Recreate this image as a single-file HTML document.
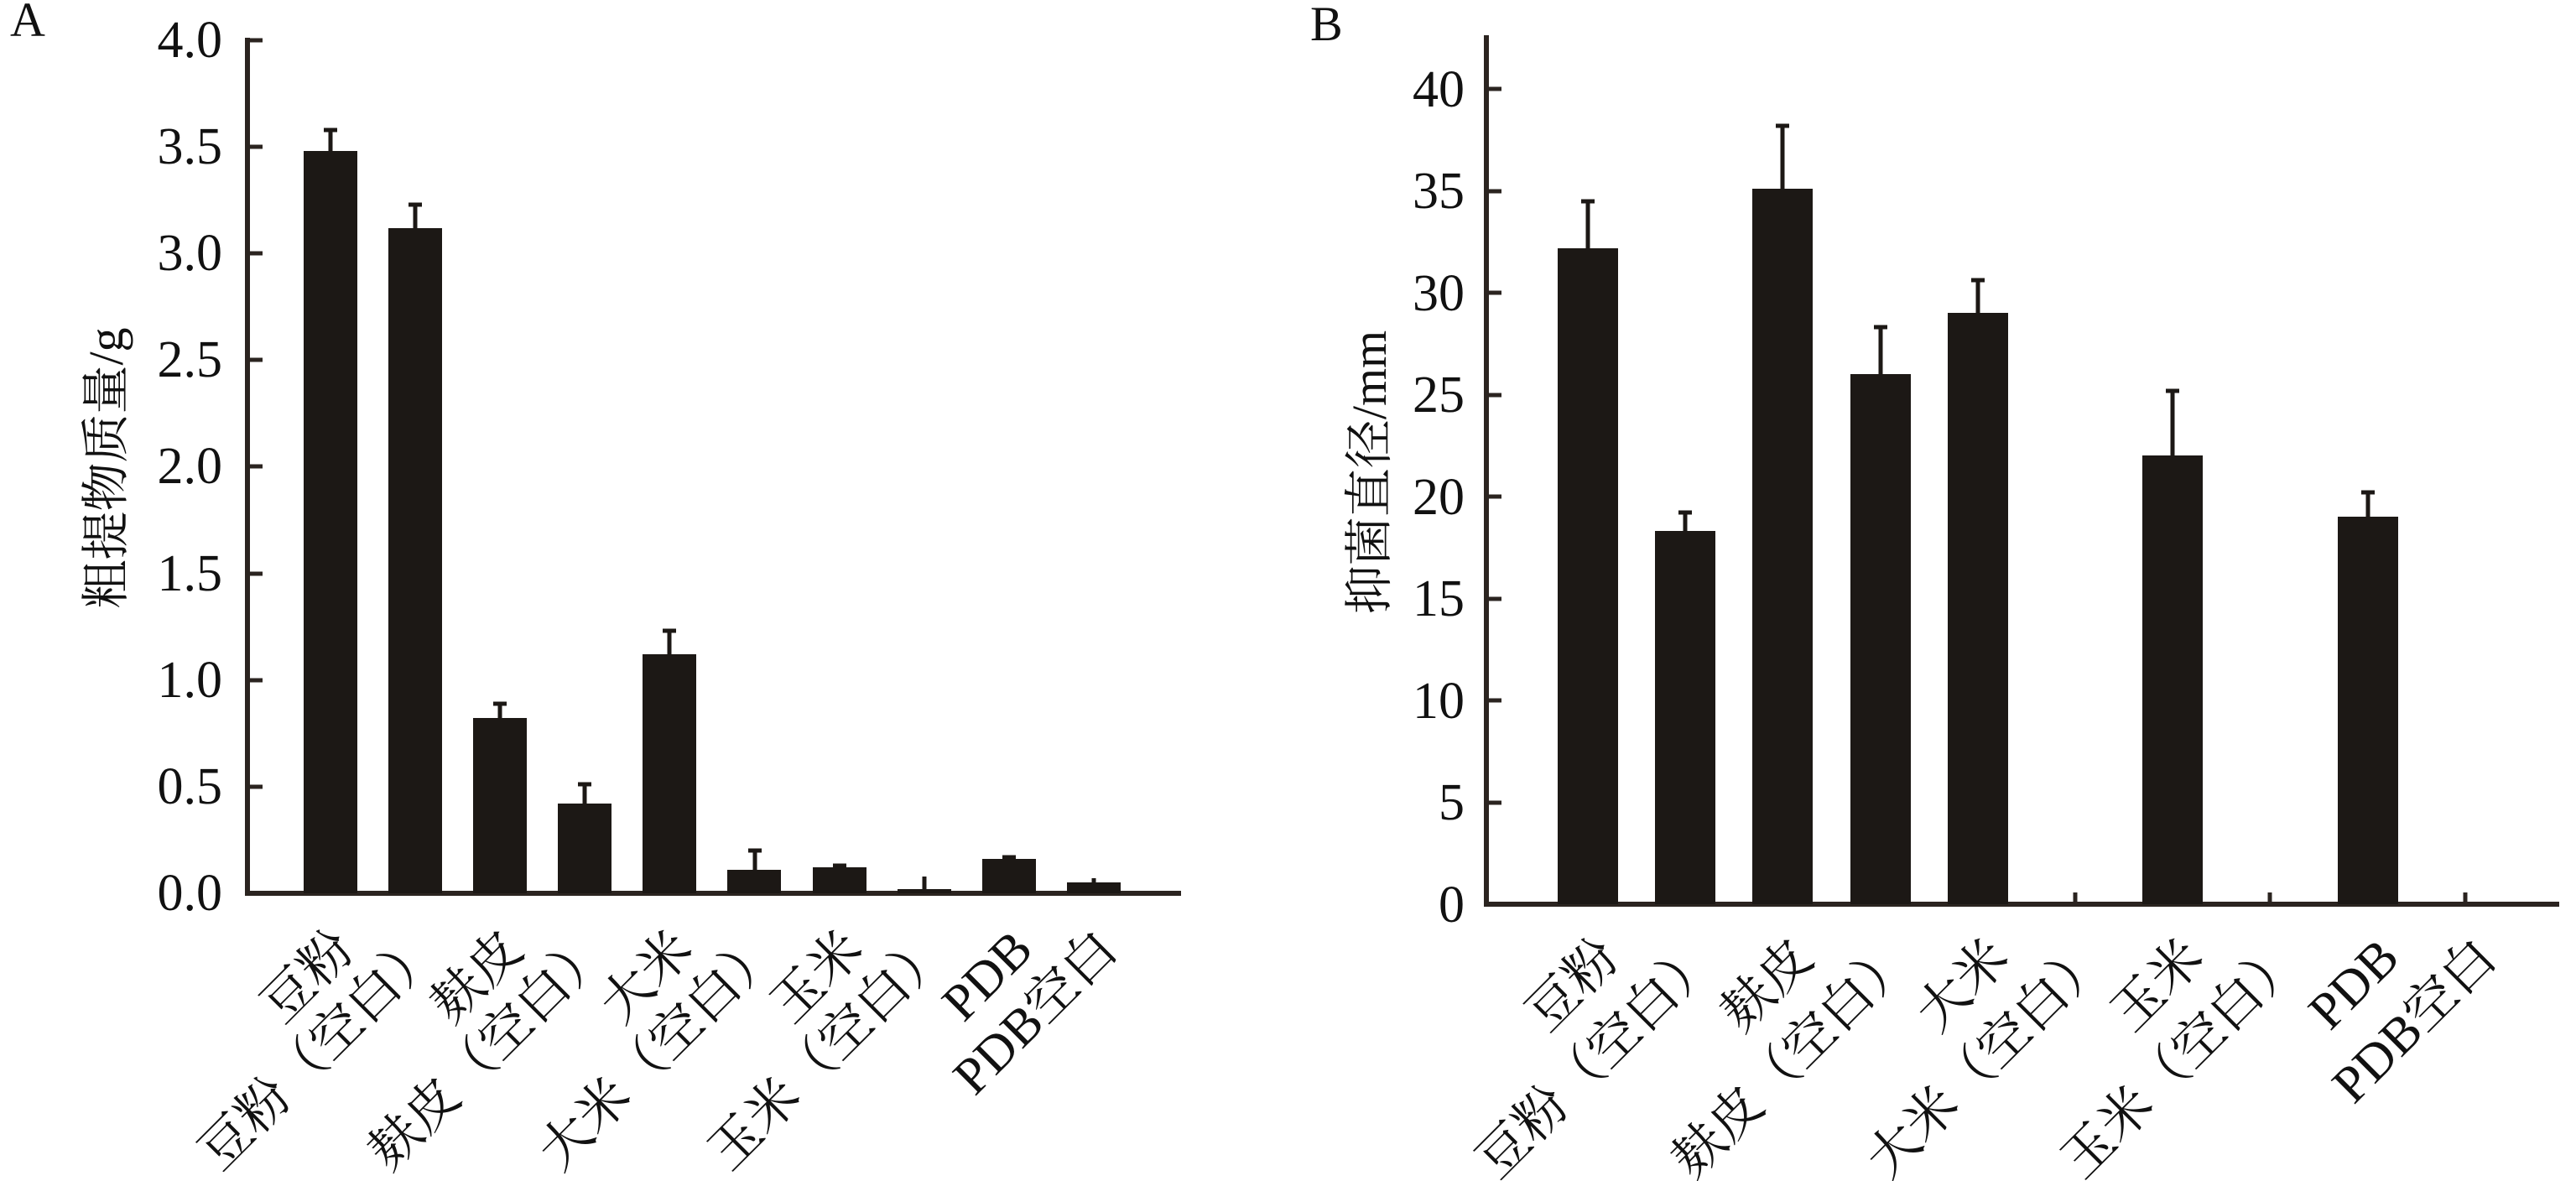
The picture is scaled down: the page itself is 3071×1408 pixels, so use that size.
<!DOCTYPE html>
<html><head><meta charset="utf-8"><style>
html,body{margin:0;padding:0;background:#fff;}
svg{display:block;}
text{font-family:"Liberation Serif","Noto Serif CJK SC",serif;fill:#111;}
</style></head><body>
<svg width="3071" height="1408" viewBox="0 0 3071 1408" xmlns="http://www.w3.org/2000/svg">
<!-- Panel A -->
<text x="12" y="43" font-size="58">A</text>
<g stroke="#2b2420" stroke-width="6" fill="none">
<line x1="295" y1="45" x2="295" y2="1068"/>
<line x1="292" y1="1065" x2="1408" y2="1065"/>
</g>
<g stroke="#2b2420" stroke-width="5">
<line x1="295" y1="48" x2="313" y2="48"/><line x1="295" y1="175" x2="313" y2="175"/>
<line x1="295" y1="302" x2="313" y2="302"/><line x1="295" y1="429" x2="313" y2="429"/>
<line x1="295" y1="556" x2="313" y2="556"/><line x1="295" y1="684" x2="313" y2="684"/>
<line x1="295" y1="811" x2="313" y2="811"/><line x1="295" y1="938" x2="313" y2="938"/>
</g>
<g font-size="62" text-anchor="end">
<text x="265" y="68">4.0</text><text x="265" y="195">3.5</text><text x="265" y="322">3.0</text>
<text x="265" y="449">2.5</text><text x="265" y="576">2.0</text><text x="265" y="704">1.5</text>
<text x="265" y="831">1.0</text><text x="265" y="958">0.5</text><text x="265" y="1085">0.0</text>
</g>
<text transform="translate(146,558) rotate(-90)" font-size="58" text-anchor="middle">粗提物质量/g</text>
<g fill="#1c1815">
<rect x="362" y="180" width="64" height="885"/>
<rect x="463" y="272" width="64" height="793"/>
<rect x="564" y="856" width="64" height="209"/>
<rect x="665" y="958" width="64" height="107"/>
<rect x="766" y="780" width="64" height="285"/>
<rect x="867" y="1037" width="64" height="28"/>
<rect x="969" y="1034" width="64" height="31"/>
<rect x="1070" y="1060" width="64" height="5"/>
<rect x="1171" y="1024" width="64" height="41"/>
<rect x="1272" y="1052" width="64" height="13"/>
</g>
<g stroke="#1c1815" stroke-width="5">
<path d="M394 180V155M386 155H402"/>
<path d="M495 272V244M487 244H503"/>
<path d="M596 856V839M588 839H604"/>
<path d="M697 958V935M689 935H705"/>
<path d="M798 780V752M790 752H806"/>
<path d="M900 1037V1014M892 1014H908"/>
<path d="M1001 1034V1032M993 1032H1009"/>
<path d="M1102 1060V1045"/>
<path d="M1203 1024V1022M1195 1022H1211"/>
<path d="M1304 1052V1047"/>
</g>
<g font-size="62" text-anchor="end">
<text transform="translate(425,1135) rotate(-45)">豆粉</text>
<text transform="translate(526,1135) rotate(-45)">豆粉（空白）</text>
<text transform="translate(627,1135) rotate(-45)">麸皮</text>
<text transform="translate(728,1135) rotate(-45)">麸皮（空白）</text>
<text transform="translate(829,1135) rotate(-45)">大米</text>
<text transform="translate(931,1135) rotate(-45)">大米（空白）</text>
<text transform="translate(1032,1135) rotate(-45)">玉米</text>
<text transform="translate(1133,1135) rotate(-45)">玉米（空白）</text>
<text transform="translate(1234,1135) rotate(-45)">PDB</text>
<text transform="translate(1335,1135) rotate(-45)">PDB空白</text>
</g>

<!-- Panel B -->
<text x="1562" y="48" font-size="58">B</text>
<g stroke="#2b2420" stroke-width="6" fill="none">
<line x1="1772" y1="42" x2="1772" y2="1081"/>
<line x1="1769" y1="1078" x2="3051" y2="1078"/>
</g>
<g stroke="#2b2420" stroke-width="5">
<line x1="1772" y1="106" x2="1790" y2="106"/><line x1="1772" y1="228" x2="1790" y2="228"/>
<line x1="1772" y1="349" x2="1790" y2="349"/><line x1="1772" y1="471" x2="1790" y2="471"/>
<line x1="1772" y1="592" x2="1790" y2="592"/><line x1="1772" y1="714" x2="1790" y2="714"/>
<line x1="1772" y1="835" x2="1790" y2="835"/><line x1="1772" y1="957" x2="1790" y2="957"/>
<line x1="2474" y1="1078" x2="2474" y2="1064"/><line x1="2706" y1="1078" x2="2706" y2="1064"/>
<line x1="2939" y1="1078" x2="2939" y2="1064"/>
</g>
<g font-size="62" text-anchor="end">
<text x="1746" y="127">40</text><text x="1746" y="248">35</text><text x="1746" y="370">30</text>
<text x="1746" y="491">25</text><text x="1746" y="613">20</text><text x="1746" y="734">15</text>
<text x="1746" y="856">10</text><text x="1746" y="977">5</text><text x="1746" y="1099">0</text>
</g>
<text transform="translate(1652,563) rotate(-90)" font-size="58" text-anchor="middle">抑菌直径/mm</text>
<g fill="#1c1815">
<rect x="1857" y="296" width="72" height="782"/>
<rect x="1973" y="633" width="72" height="445"/>
<rect x="2089" y="225" width="72" height="853"/>
<rect x="2206" y="446" width="72" height="632"/>
<rect x="2322" y="373" width="72" height="705"/>
<rect x="2554" y="543" width="72" height="535"/>
<rect x="2787" y="616" width="72" height="462"/>
</g>
<g stroke="#1c1815" stroke-width="5">
<path d="M1893 296V240M1885 240H1901"/>
<path d="M2009 633V611M2001 611H2017"/>
<path d="M2125 225V150M2117 150H2133"/>
<path d="M2242 446V390M2234 390H2250"/>
<path d="M2358 373V334M2350 334H2366"/>
<path d="M2590 543V466M2582 466H2598"/>
<path d="M2823 616V587M2815 587H2831"/>
</g>
<g font-size="62" text-anchor="end">
<text transform="translate(1933,1145) rotate(-45)">豆粉</text>
<text transform="translate(2049,1145) rotate(-45)">豆粉（空白）</text>
<text transform="translate(2165,1145) rotate(-45)">麸皮</text>
<text transform="translate(2282,1145) rotate(-45)">麸皮（空白）</text>
<text transform="translate(2398,1145) rotate(-45)">大米</text>
<text transform="translate(2514,1145) rotate(-45)">大米（空白）</text>
<text transform="translate(2630,1145) rotate(-45)">玉米</text>
<text transform="translate(2746,1145) rotate(-45)">玉米（空白）</text>
<text transform="translate(2863,1145) rotate(-45)">PDB</text>
<text transform="translate(2979,1145) rotate(-45)">PDB空白</text>
</g>
</svg>
</body></html>
